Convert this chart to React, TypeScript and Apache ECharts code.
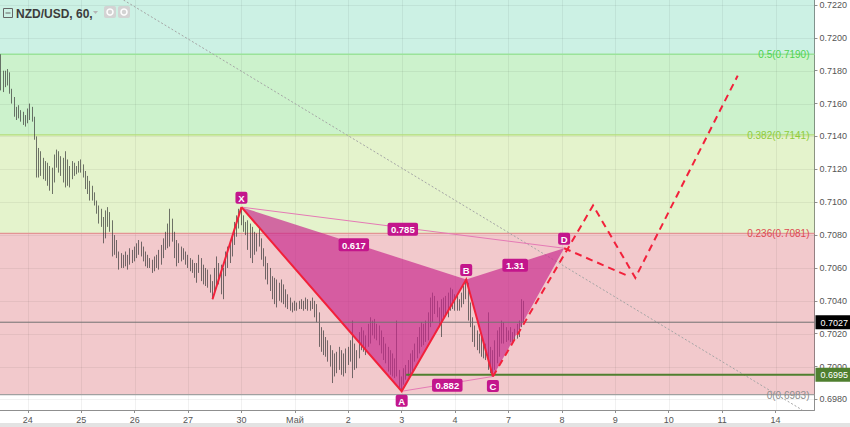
import React, { useEffect, useRef } from 'react';
import * as echarts from 'echarts';

const title = 'NZD/USD, 60,';
const dayLabels = ['24', '25', '26', '27', '30', 'Май', '2', '3', '4', '7', '8', '9', '10', '11', '14'];
const firstDayBar = 12;
const barsPerDay = 24;
const barSlots = 366;

const opens = [
  0.7188,0.7172,0.7178,0.7172,0.7179,0.7168,0.7162,0.7154,0.7156,0.7152,0.7150,0.7153,
  0.7148,0.7156,0.7152,0.7150,0.7140,0.7118,0.7130,0.7120,0.7124,0.7115,0.7120,0.7109,
  0.7118,0.7127,0.7124,0.7128,0.7118,0.7125,0.7112,0.7122,0.7114,0.7123,0.7118,0.7121,
  0.7120,0.7123,0.7116,0.7110,0.7113,0.7103,0.7106,0.7099,0.7095,0.7089,0.7091,0.7078,
  0.7093,0.7088,0.7089,0.7069,0.7077,0.7067,0.7061,0.7067,0.7062,0.7068,0.7062,0.7070,
  0.7065,0.7072,0.7069,0.7075,0.7068,0.7070,0.7063,0.7066,0.7061,0.7059,0.7066,0.7062,
  0.7070,0.7066,0.7077,0.7073,0.7085,0.7076,0.7082,0.7068,0.7074,0.7065,0.7071,0.7066,
  0.7068,0.7061,0.7064,0.7058,0.7061,0.7057,0.7066,0.7054,0.7060,0.7051,0.7056,0.7047,
  0.7046,0.7058,0.7052,0.7061,0.7046,0.7058,0.7068,0.7063,0.7073,0.7077,0.7086,0.7090,
  0.7088,0.7092,0.7084,0.7086,0.7073,0.7083,0.7068,0.7080,0.7073,0.7078,0.7067,0.7063,
  0.7055,0.7052,0.7048,0.7043,0.7050,0.7040,0.7049,0.7041,0.7047,0.7038,0.7042,0.7035,
  0.7038,0.7036,0.7038,0.7036,0.7040,0.7035,0.7041,0.7036,0.7039,0.7037,0.7032,0.7029,
  0.7014,0.7020,0.7009,0.7015,0.7005,0.7010,0.6994,0.7005,0.6998,0.7010,0.6997,0.7006,
  0.7001,0.7010,0.7005,0.6998,0.7010,0.7005,0.7019,0.7012,0.7019,0.7012,0.7024,0.7027,
  0.7021,0.7026,0.7018,0.7022,0.7010,0.7014,0.7004,0.7009,0.6997,0.7005,0.6995,0.6998,
  0.6989,0.6992,0.6997,0.6994,0.7002,0.6997,0.7008,0.7012,0.7008,0.7022,0.7015,0.7024,
  0.7017,0.7031,0.7040,0.7032,0.7040,0.7033,0.7026,0.7038,0.7033,0.7041,0.7034,0.7046,
  0.7037,0.7042,0.7036,0.7039,0.7043,0.7047,0.7050,0.7030,0.7026,0.7017,0.7020,0.7012,
  0.7016,0.7008,0.7013,0.7006,0.7001,0.6998,0.7007,0.7013,0.7020,0.7014,0.7025,0.7017,
  0.7022,0.7018,0.7021,0.7016,0.7021,0.7019,0.7026,0.7038,
];
const highs = [
  0.7190,0.7180,0.7180,0.7181,0.7179,0.7169,0.7164,0.7158,0.7159,0.7156,0.7155,0.7153,
  0.7157,0.7160,0.7158,0.7152,0.7140,0.7133,0.7131,0.7127,0.7125,0.7124,0.7122,0.7121,
  0.7129,0.7132,0.7131,0.7128,0.7127,0.7131,0.7126,0.7122,0.7125,0.7124,0.7122,0.7125,
  0.7126,0.7123,0.7119,0.7116,0.7113,0.7110,0.7106,0.7101,0.7098,0.7096,0.7091,0.7095,
  0.7097,0.7094,0.7089,0.7080,0.7077,0.7070,0.7069,0.7068,0.7070,0.7068,0.7072,0.7071,
  0.7073,0.7075,0.7077,0.7076,0.7073,0.7070,0.7068,0.7066,0.7065,0.7067,0.7068,0.7071,
  0.7074,0.7078,0.7082,0.7087,0.7096,0.7090,0.7082,0.7077,0.7075,0.7073,0.7072,0.7070,
  0.7068,0.7066,0.7065,0.7063,0.7063,0.7068,0.7066,0.7062,0.7060,0.7059,0.7056,0.7052,
  0.7060,0.7067,0.7063,0.7062,0.7060,0.7070,0.7073,0.7075,0.7079,0.7088,0.7092,0.7096,
  0.7097,0.7092,0.7088,0.7089,0.7087,0.7085,0.7082,0.7081,0.7085,0.7078,0.7072,0.7067,
  0.7063,0.7060,0.7055,0.7054,0.7053,0.7051,0.7053,0.7050,0.7047,0.7044,0.7042,0.7039,
  0.7040,0.7039,0.7040,0.7041,0.7040,0.7042,0.7041,0.7040,0.7042,0.7040,0.7038,0.7033,
  0.7024,0.7022,0.7018,0.7016,0.7013,0.7010,0.7008,0.7009,0.7012,0.7010,0.7008,0.7011,
  0.7012,0.7016,0.7028,0.7014,0.7010,0.7021,0.7024,0.7022,0.7019,0.7026,0.7030,0.7028,
  0.7029,0.7026,0.7025,0.7022,0.7018,0.7014,0.7012,0.7010,0.7008,0.7005,0.7028,0.6998,
  0.6994,0.6999,0.7001,0.7004,0.7008,0.7010,0.7014,0.7018,0.7024,0.7027,0.7026,0.7028,
  0.7033,0.7042,0.7045,0.7043,0.7040,0.7036,0.7041,0.7042,0.7043,0.7045,0.7048,0.7047,
  0.7044,0.7043,0.7041,0.7045,0.7049,0.7053,0.7051,0.7039,0.7030,0.7025,0.7022,0.7020,
  0.7018,0.7016,0.7014,0.7033,0.7012,0.7010,0.7016,0.7022,0.7024,0.7028,0.7027,0.7024,
  0.7022,0.7024,0.7021,0.7023,0.7026,0.7028,0.7041,0.7040,
];
const lows = [
  0.7168,0.7167,0.7170,0.7171,0.7166,0.7160,0.7152,0.7150,0.7151,0.7149,0.7147,0.7146,
  0.7148,0.7150,0.7149,0.7138,0.7115,0.7115,0.7116,0.7114,0.7113,0.7110,0.7107,0.7105,
  0.7112,0.7121,0.7118,0.7116,0.7112,0.7109,0.7110,0.7109,0.7114,0.7116,0.7117,0.7118,
  0.7118,0.7115,0.7108,0.7105,0.7101,0.7101,0.7098,0.7093,0.7087,0.7085,0.7075,0.7078,
  0.7085,0.7082,0.7067,0.7068,0.7066,0.7059,0.7060,0.7060,0.7061,0.7059,0.7062,0.7063,
  0.7064,0.7066,0.7068,0.7067,0.7064,0.7061,0.7060,0.7060,0.7057,0.7058,0.7060,0.7059,
  0.7062,0.7066,0.7071,0.7072,0.7073,0.7076,0.7066,0.7061,0.7063,0.7064,0.7065,0.7062,
  0.7060,0.7058,0.7057,0.7054,0.7051,0.7057,0.7052,0.7050,0.7049,0.7048,0.7045,0.7041,
  0.7046,0.7049,0.7050,0.7044,0.7041,0.7055,0.7060,0.7063,0.7067,0.7074,0.7079,0.7084,
  0.7086,0.7082,0.7080,0.7071,0.7066,0.7063,0.7068,0.7070,0.7073,0.7065,0.7061,0.7053,
  0.7050,0.7046,0.7041,0.7038,0.7036,0.7040,0.7039,0.7038,0.7036,0.7035,0.7034,0.7033,
  0.7034,0.7034,0.7035,0.7035,0.7034,0.7035,0.7034,0.7034,0.7035,0.7030,0.7027,0.7012,
  0.7009,0.7007,0.7006,0.7003,0.7000,0.6990,0.6994,0.6996,0.6998,0.6995,0.6994,0.6996,
  0.7001,0.7003,0.6993,0.6998,0.6999,0.7005,0.7010,0.7009,0.7007,0.7012,0.7014,0.7019,
  0.7017,0.7016,0.7013,0.7008,0.7004,0.7002,0.6997,0.6995,0.6994,0.6993,0.6994,0.6987,
  0.6985,0.6989,0.6992,0.6994,0.6995,0.6997,0.7003,0.7005,0.7008,0.7012,0.7013,0.7015,
  0.7016,0.7024,0.7027,0.7032,0.7030,0.7024,0.7018,0.7030,0.7031,0.7030,0.7034,0.7035,
  0.7034,0.7034,0.7034,0.7036,0.7038,0.7041,0.7028,0.7024,0.7015,0.7012,0.7010,0.7008,
  0.7006,0.7005,0.7004,0.6998,0.6996,0.6994,0.6998,0.7002,0.7006,0.7014,0.7014,0.7015,
  0.7016,0.7015,0.7014,0.7016,0.7017,0.7018,0.7024,0.7027,
];
const closes = [
  0.7172,0.7178,0.7172,0.7179,0.7168,0.7162,0.7154,0.7156,0.7152,0.7150,0.7153,0.7148,
  0.7156,0.7152,0.7150,0.7140,0.7118,0.7130,0.7120,0.7124,0.7115,0.7120,0.7109,0.7118,
  0.7127,0.7124,0.7129,0.7118,0.7125,0.7112,0.7122,0.7113,0.7123,0.7118,0.7121,0.7120,
  0.7124,0.7116,0.7110,0.7114,0.7103,0.7108,0.7099,0.7095,0.7089,0.7094,0.7077,0.7093,
  0.7088,0.7090,0.7069,0.7078,0.7067,0.7061,0.7067,0.7062,0.7068,0.7060,0.7070,0.7065,
  0.7072,0.7069,0.7075,0.7068,0.7071,0.7063,0.7066,0.7061,0.7059,0.7066,0.7062,0.7070,
  0.7064,0.7077,0.7073,0.7085,0.7076,0.7088,0.7068,0.7074,0.7065,0.7071,0.7066,0.7068,
  0.7061,0.7064,0.7058,0.7061,0.7053,0.7066,0.7054,0.7060,0.7051,0.7057,0.7047,0.7043,
  0.7058,0.7052,0.7061,0.7046,0.7058,0.7068,0.7062,0.7073,0.7077,0.7086,0.7090,0.7088,
  0.7092,0.7084,0.7086,0.7073,0.7083,0.7066,0.7080,0.7072,0.7083,0.7067,0.7063,0.7055,
  0.7052,0.7048,0.7043,0.7050,0.7038,0.7049,0.7041,0.7047,0.7038,0.7042,0.7035,0.7038,
  0.7036,0.7038,0.7036,0.7040,0.7035,0.7041,0.7036,0.7039,0.7037,0.7032,0.7029,0.7014,
  0.7020,0.7009,0.7015,0.7005,0.7010,0.6993,0.7005,0.6998,0.7010,0.6997,0.7006,0.6999,
  0.7010,0.7005,0.6996,0.7012,0.7001,0.7019,0.7012,0.7020,0.7009,0.7024,0.7027,0.7021,
  0.7026,0.7018,0.7022,0.7010,0.7015,0.7004,0.7009,0.6997,0.7006,0.6995,0.6999,0.6989,
  0.6992,0.6997,0.6994,0.7002,0.6997,0.7008,0.7012,0.7007,0.7022,0.7015,0.7024,0.7017,
  0.7031,0.7040,0.7029,0.7041,0.7033,0.7026,0.7038,0.7033,0.7041,0.7034,0.7046,0.7037,
  0.7042,0.7036,0.7039,0.7043,0.7047,0.7050,0.7030,0.7026,0.7017,0.7020,0.7012,0.7016,
  0.7008,0.7013,0.7006,0.7001,0.6998,0.7007,0.7013,0.7020,0.7010,0.7025,0.7017,0.7022,
  0.7018,0.7021,0.7016,0.7021,0.7019,0.7026,0.7038,0.7027,
];

const yTicks = [0.698, 0.7, 0.702, 0.704, 0.706, 0.708, 0.71, 0.712, 0.714, 0.716, 0.718, 0.72, 0.722];
const yMin = 0.69736;
const yMax = 0.7223;

const fibRatios = ['0', '0.236', '0.382', '0.5', '0.618'];
const fibPrices = [0.6983, 0.7081, 0.7141, 0.719, 0.7239];

const pointNames = ['X', 'A', 'B', 'C', 'D'];
const pointBars = [108, 180, 209, 221, 253];
const pointPrices = [0.7097, 0.6985, 0.7053, 0.6994, 0.7072];

const legStartBar = 95;
const legStartPrice = 0.7041;

const ratioTexts = ['0.617', '0.785', '1.31', '0.882'];
const ratioPairs = [[0, 2], [0, 4], [2, 4], [1, 3]];

const projBars = [221, 266, 285, 331];
const projPrices = [0.6994, 0.7098, 0.7054, 0.7177];
const projAltBars = [253, 282];
const projAltPrices = [0.7072, 0.7055];

const trendBars = [55, 360];
const trendPrices = [0.7223, 0.69736];

const lastPrice = 0.7027;
const levelPrice = 0.6995;
const levelStartBar = 182;

// ---- styles ----
const FONT = '"Liberation Sans", Arial, sans-serif';
const bandFills = ['rgba(196,10,23,0.22)', 'rgba(120,195,0,0.2)', 'rgba(0,190,0,0.2)', 'rgba(0,185,120,0.2)'];
const fibLineColors = ['#a0a0a0', '#e39494', '#b2dd78', '#9ae39a'];
const fibTextColors = ['#8c8c8c', '#de4a52', '#8fcb3c', '#4fd24f'];
const MAGENTA = '#c3168c';
const RED = '#f2213b';
const GREEN = '#4f7f2f';

const isDay = (i: number) =>
  i >= firstDayBar && (i - firstDayBar) % barsPerDay === 0 && (i - firstDayBar) / barsPerDay < dayLabels.length;

const categories = Array.from({ length: barSlots }, (_, i) =>
  isDay(i) ? dayLabels[(i - firstDayBar) / barsPerDay] : 'h' + i
);

function tag(cx: number, cy: number, w: number, h: number, text: string, bg: string, font: string) {
  return [
    { type: 'rect', shape: { x: cx - w / 2, y: cy - h / 2, width: w, height: h, r: 2 }, style: { fill: bg } },
    { type: 'text', x: cx, y: cy + 0.5, style: { text, fill: '#ffffff', font, align: 'center', verticalAlign: 'middle' } },
  ];
}

function renderBands(params: any, api: any) {
  const cs = params.coordSys;
  const children: any[] = [];
  const yOf = (p: number) => api.coord([0, p])[1];
  for (let k = 0; k < fibPrices.length - 1; k++) {
    const top = Math.max(cs.y, yOf(fibPrices[k + 1]));
    const bottom = Math.min(cs.y + cs.height, yOf(fibPrices[k]));
    if (bottom > top) {
      children.push({ type: 'rect', shape: { x: cs.x, y: top, width: cs.width, height: bottom - top }, style: { fill: bandFills[k] } });
    }
  }
  yTicks.forEach((t) => {
    const y = Math.round(yOf(t)) + 0.5;
    children.push({ type: 'line', shape: { x1: cs.x, y1: y, x2: cs.x + cs.width, y2: y }, style: { stroke: 'rgba(0,0,0,0.055)', lineWidth: 1 } });
  });
  categories.forEach((_, i) => {
    if (!isDay(i)) return;
    const x = Math.round(api.coord([i, yMin])[0]) + 0.5;
    children.push({ type: 'line', shape: { x1: x, y1: cs.y, x2: x, y2: cs.y + cs.height }, style: { stroke: 'rgba(0,0,0,0.055)', lineWidth: 1 } });
  });
  fibPrices.forEach((p, k) => {
    const y = yOf(p);
    if (y < cs.y || y > cs.y + cs.height) return;
    children.push({ type: 'line', shape: { x1: cs.x, y1: y, x2: cs.x + cs.width, y2: y }, style: { stroke: fibLineColors[k], lineWidth: 1.3 } });
    children.push({
      type: 'text', x: cs.x + cs.width - 5, y: y + 0.5,
      style: { text: fibRatios[k] + '(' + p.toFixed(4) + ')', fill: fibTextColors[k], font: '10px ' + FONT, align: 'right', verticalAlign: 'middle' },
    });
  });
  return { type: 'group', children };
}

function renderPattern(params: any, api: any) {
  const cs = params.coordSys;
  const pt = (i: number, p: number) => api.coord([i, p]);
  const P = pointBars.map((b, k) => pt(b, pointPrices[k]));
  const [X, A, B, C, D] = P;
  const children: any[] = [];

  const t0 = pt(trendBars[0], trendPrices[0]);
  const t1 = pt(trendBars[1], trendPrices[1]);
  children.push({
    type: 'line',
    shape: { x1: t0[0], y1: t0[1], x2: t1[0], y2: t1[1] },
    style: { stroke: '#a5a5a5', lineWidth: 1, lineDash: [2, 2] },
  });

  children.push({ type: 'polygon', shape: { points: [X, A, B] }, style: { fill: 'rgba(200,40,140,0.68)' } });
  children.push({ type: 'polygon', shape: { points: [B, C, D] }, style: { fill: 'rgba(200,40,140,0.68)' } });

  children.push({ type: 'line', shape: { x1: X[0], y1: X[1], x2: D[0], y2: D[1] }, style: { stroke: '#e57ab5', lineWidth: 1 } });
  children.push({ type: 'line', shape: { x1: A[0], y1: A[1], x2: C[0], y2: C[1] }, style: { stroke: '#e57ab5', lineWidth: 1 } });

  const yLast = pt(0, lastPrice)[1];
  children.push({ type: 'line', shape: { x1: cs.x, y1: yLast, x2: cs.x + cs.width, y2: yLast }, style: { stroke: '#707070', lineWidth: 1 } });
  const lv = pt(levelStartBar, levelPrice);
  children.push({ type: 'line', shape: { x1: lv[0], y1: lv[1], x2: cs.x + cs.width, y2: lv[1] }, style: { stroke: GREEN, lineWidth: 2 } });

  children.push({ type: 'polyline', shape: { points: [pt(legStartBar, legStartPrice), X] }, style: { stroke: RED, lineWidth: 2, fill: 'none' } });
  children.push({ type: 'polyline', shape: { points: [X, A, B, C] }, style: { stroke: RED, lineWidth: 2, fill: 'none' } });

  children.push({
    type: 'polyline', shape: { points: projBars.map((b, k) => pt(b, projPrices[k])) },
    style: { stroke: RED, lineWidth: 2, lineDash: [7, 5], fill: 'none' },
  });
  children.push({
    type: 'polyline', shape: { points: projAltBars.map((b, k) => pt(b, projAltPrices[k])) },
    style: { stroke: RED, lineWidth: 2, lineDash: [7, 5], fill: 'none' },
  });

  ratioPairs.forEach(([a, b], k) => {
    const cx = (P[a][0] + P[b][0]) / 2;
    const cy = (P[a][1] + P[b][1]) / 2 + 1.5;
    const txt = ratioTexts[k];
    children.push(...tag(cx, cy, 6 + 4.9 * txt.length, 13, txt, MAGENTA, 'bold 9.5px ' + FONT));
  });

  const side = [-1, 1, -1, 1, -1];
  P.forEach((p, k) => {
    children.push(...tag(p[0], p[1] + side[k] * 9.5, 12, 12, pointNames[k], MAGENTA, 'bold 9.5px ' + FONT));
  });

  const bx = cs.x + cs.width + 1;
  [[lastPrice, '#000000'], [levelPrice, GREEN]].forEach(([p, bg]: any) => {
    const y = pt(0, p)[1];
    children.push({ type: 'rect', shape: { x: bx, y: y - 7, width: 850 - bx, height: 14 }, style: { fill: bg } });
    children.push({ type: 'text', x: bx + 5, y: y + 0.5, style: { text: p.toFixed(4), fill: '#fff', font: '9px ' + FONT, align: 'left', verticalAlign: 'middle' } });
  });

  return { type: 'group', children };
}

export default function App() {
  const ref = useRef<HTMLDivElement>(null);
  useEffect(() => {
    if (!ref.current) return;
    const chart = echarts.init(ref.current, undefined, { renderer: 'svg' });
    const candles = opens.map((o, i) => [o, closes[i], lows[i], highs[i]]);
    chart.setOption({
      animation: false,
      backgroundColor: '#ffffff',
      grid: { left: 0, right: 33, top: 0, bottom: 17, containLabel: false },
      xAxis: {
        type: 'category',
        data: categories,
        boundaryGap: true,
        axisLine: { show: true, lineStyle: { color: '#8f8f8f', width: 1 } },
        axisTick: { show: true, alignWithLabel: true, interval: (i: number) => isDay(i), length: 3, lineStyle: { color: '#8f8f8f' } },
        axisLabel: { interval: (i: number) => isDay(i), color: '#555', fontSize: 9, fontFamily: FONT, margin: 5 },
        splitLine: { show: false },
      },
      yAxis: {
        type: 'value',
        position: 'right',
        min: yMin,
        max: yMax,
        axisLine: { show: true, lineStyle: { color: '#8f8f8f', width: 1 } },
        axisTick: { show: true, length: 3, lineStyle: { color: '#8f8f8f' }, customValues: yTicks },
        axisLabel: { customValues: yTicks, formatter: (v: number) => v.toFixed(4), color: '#555', fontSize: 9, fontFamily: FONT, margin: 5 },
        splitLine: { show: false },
      },
      graphic: [
        { type: 'rect', shape: { x: 0, y: 423, width: 850, height: 4 }, style: { fill: '#e3e3e3' }, z: 100 },
        { type: 'rect', shape: { x: 3.5, y: 8.5, width: 9, height: 9 }, style: { fill: 'none', stroke: '#666', lineWidth: 1 }, z: 100 },
        { type: 'line', shape: { x1: 5.5, y1: 13, x2: 10.5, y2: 13 }, style: { stroke: '#666', lineWidth: 1 }, z: 100 },
        { type: 'text', x: 16, y: 13.5, style: { text: title, font: 'bold 12px ' + FONT, fill: '#3c3c3c', verticalAlign: 'middle' }, z: 100 },
        { type: 'polygon', shape: { points: [[93, 11], [98, 11], [95.5, 14]] }, style: { fill: '#b5b5b5' }, z: 100 },
        { type: 'rect', shape: { x: 104, y: 6, width: 12, height: 12, r: 2 }, style: { fill: '#d3d3d3' }, z: 100 },
        { type: 'circle', shape: { cx: 110, cy: 12, r: 3 }, style: { fill: 'none', stroke: '#fff', lineWidth: 1.5 }, z: 100 },
        { type: 'rect', shape: { x: 118, y: 6, width: 12, height: 12, r: 2 }, style: { fill: '#d3d3d3' }, z: 100 },
        { type: 'circle', shape: { cx: 124, cy: 12, r: 3 }, style: { fill: 'none', stroke: '#fff', lineWidth: 1.5 }, z: 100 },
      ],
      series: [
        { type: 'custom', name: 'bands', renderItem: renderBands, data: [[0, 0.71]], z: 1, silent: true },
        {
          type: 'candlestick',
          name: 'NZD/USD',
          data: candles,
          barWidth: 1.3,
          z: 2,
          silent: true,
          itemStyle: { color: '#8a8a8a', color0: '#8a8a8a', borderColor: '#3a3a3a', borderColor0: '#3a3a3a', borderWidth: 0.7 },
        },
        { type: 'custom', name: 'pattern', renderItem: renderPattern, data: [[0, 0.71]], z: 3, silent: true },
      ],
    });
    return () => chart.dispose();
  }, []);
  return <div ref={ref} style={{ position: 'fixed', left: 0, top: 0, width: 850, height: 427 }} />;
}
